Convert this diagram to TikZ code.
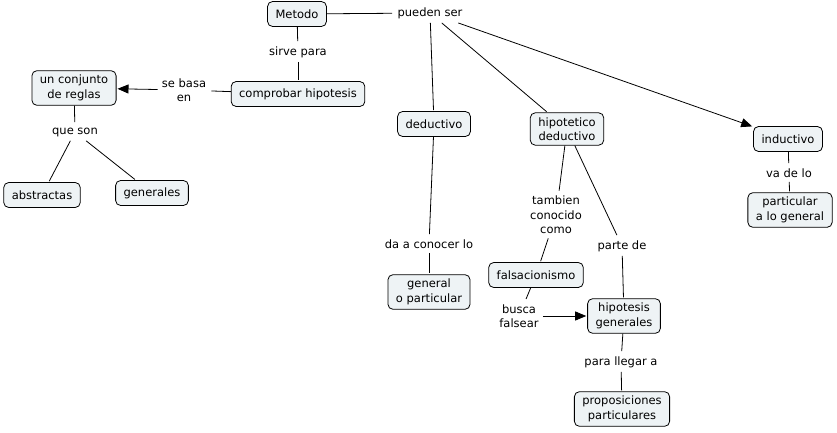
\documentclass[tikz,border=0pt]{standalone}
\usepackage{fontspec}
\setmainfont{DejaVu Sans}
\usetikzlibrary{arrows.meta}
\definecolor{boxfill}{HTML}{EEF3F5}
\begin{document}
\begin{tikzpicture}[x=1pt, y=-1pt, line width=0.8pt, shorten >=1pt,
  main node/.style={rectangle,rounded corners=5pt,draw,fill=boxfill,align=center,inner xsep=8pt,inner ysep=4.5pt,minimum height=25pt},
  link node/.style={align=center,inner sep=4pt},
  arrow/.style={-{Triangle[length=11pt,width=9pt]}}]
\useasboundingbox (0,0) rectangle (837,433);
\begin{scope}[every node/.style={font=\fontsize{11.5}{14.5}\selectfont}]
\node [main node](metodo) at (297,14) {Metodo};
\node [main node](comprobar) at (298,94) {comprobar hipotesis};
\node [main node](reglas) at (74,88) {un conjunto\\de reglas};
\node [main node](abstractas) at (42,195) {abstractas};
\node [main node](generales) at (152,193) {generales};
\node [main node](deductivo) at (434,124) {deductivo};
\node [main node](hipotetico) at (567,129) {hipotetico\\deductivo};
\node [main node](inductivo) at (788,139) {inductivo};
\node [main node](partgen) at (790,210) {particular\\a lo general};
\node [main node](genpart) at (429,292) {general\\o particular};
\node [main node](falsac) at (536,275) {falsacionismo};
\node [main node](hipgen) at (624,316) {hipotesis\\generales};
\node [main node](propos) at (622,409) {proposiciones\\particulares};
\node [link node](pueden) at (430,13) {pueden ser};
\node [link node](sirve) at (298,52) {sirve para};
\node [link node](basa) at (184,90) {se basa\\en};
\node [link node](queson) at (75,132) {que son};
\node [link node](vadelo) at (789,173) {va de lo};
\node [link node](conocer) at (429,244) {da a conocer lo};
\node [link node](tambien) at (556,215) {tambien\\conocido\\como};
\node [link node](parte) at (622,246) {parte de};
\node [link node](busca) at (519,316) {busca\\falsear};
\node [link node](llegar) at (621,362) {para llegar a};
\end{scope}
\path
	(metodo) edge (pueden)
	(metodo) edge (sirve)
	(sirve) edge (comprobar)
	(comprobar) edge (basa)
	(basa) edge [arrow] (reglas)
	(reglas) edge (queson)
	(queson) edge (abstractas)
	         edge (generales)
	(pueden) edge (deductivo)
	         edge (hipotetico)
	         edge [arrow] (inductivo)
	(inductivo) edge (vadelo)
	(vadelo) edge (partgen)
	(deductivo) edge (conocer)
	(conocer) edge (genpart)
	(hipotetico) edge (tambien)
	             edge (parte)
	(tambien) edge (falsac)
	(parte) edge (hipgen)
	(falsac) edge (busca)
	(busca) edge [arrow] (hipgen)
	(hipgen) edge (llegar)
	(llegar) edge (propos)
	;
\end{tikzpicture}
\end{document}
